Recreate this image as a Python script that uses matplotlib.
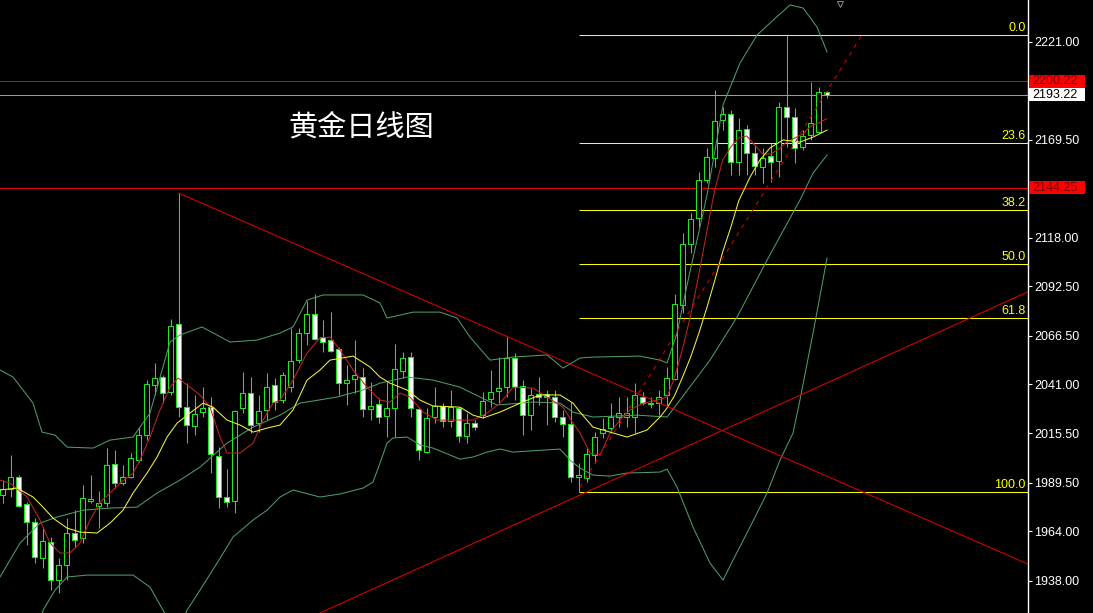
import matplotlib
matplotlib.use('Agg')
import matplotlib.pyplot as plt
import matplotlib.transforms as mtransforms
from matplotlib.patches import Rectangle
import numpy as np

# ---------------- data ----------------
opens = [1982.9, 1986.1, 1992.4, 1978.2, 1968.8, 1949.8, 1958.2, 1938.3, 1946.2, 1963.0,
         1960.3, 1979.8, 1977.2, 1978.7, 1999.2, 1989.2, 1992.4, 2001.3, 2014.4, 2040.7,
         2044.9, 2037.0, 2072.7, 2029.1, 2019.2, 2026.5, 2029.1, 2003.4, 1981.9, 1979.8,
         2028.6, 2036.5, 2020.7, 2027.6, 2040.7, 2032.8, 2039.6, 2053.8, 2068.0, 2078.0,
         2065.9, 2064.3, 2059.6, 2041.7, 2043.9, 2044.9, 2028.1, 2030.7, 2024.4, 2028.6,
         2048.1, 2055.4, 2028.1, 2005.5, 2023.9, 2029.7, 2021.8, 2028.6, 2013.9, 2020.7,
         2024.9, 2033.4, 2037.6, 2039.6, 2054.9, 2040.2, 2024.9, 2036.0, 2036.0, 2034.4,
         2023.9, 2020.2, 1992.4, 1991.9, 2003.9, 2015.5, 2018.1, 2023.9, 2023.9, 2023.9,
         2034.4, 2030.7, 2031.2, 2035.5, 2043.9, 2082.7, 2114.8, 2128.4, 2148.4, 2159.9,
         2179.9, 2183.0, 2157.8, 2175.1, 2162.5, 2155.2, 2161.0, 2158.3, 2186.7, 2181.5,
         2165.7, 2172.0, 2173.6, 2194.6]
highs = [1990.8, 2003.9, 1993.4, 1979.3, 1970.9, 1966.1, 1960.9, 1949.8, 1970.9, 1975.1,
         1988.2, 1993.4, 1985.0, 2007.6, 2006.6, 1998.7, 2005.0, 2018.6, 2043.3, 2052.3,
         2046.0, 2075.4, 2141.5, 2041.7, 2035.5, 2039.6, 2034.4, 2008.1, 1996.6, 2027.6,
         2047.5, 2044.9, 2035.5, 2047.0, 2044.4, 2047.5, 2070.6, 2070.6, 2084.8, 2088.5,
         2074.8, 2079.0, 2060.7, 2051.2, 2064.3, 2049.6, 2042.3, 2033.9, 2042.3, 2062.2,
         2058.0, 2058.0, 2029.1, 2028.6, 2039.6, 2031.2, 2038.1, 2029.1, 2026.0, 2022.3,
         2037.0, 2048.6, 2055.4, 2065.9, 2057.5, 2043.3, 2039.1, 2044.9, 2038.1, 2038.1,
         2027.6, 2031.8, 1999.7, 2008.1, 2016.0, 2023.4, 2031.2, 2034.4, 2034.4, 2041.7,
         2037.0, 2034.4, 2038.1, 2050.2, 2088.5, 2120.5, 2131.0, 2152.6, 2165.2, 2195.6,
         2186.7, 2185.1, 2180.9, 2177.2, 2166.7, 2165.2, 2167.8, 2189.3, 2224.5, 2186.2,
         2174.6, 2199.8, 2197.2, 2195.1]
lows = [1978.7, 1981.9, 1976.6, 1956.7, 1947.2, 1944.6, 1933.0, 1931.5, 1938.3, 1955.6,
        1957.7, 1978.7, 1965.6, 1976.6, 1986.6, 1988.2, 1991.9, 2000.3, 2011.8, 2035.5,
        2031.2, 2035.5, 2023.9, 2010.2, 2014.4, 2023.9, 1994.5, 1976.1, 1976.6, 1973.5,
        2026.0, 2015.5, 2016.0, 2022.3, 2027.6, 2031.2, 2037.0, 2052.3, 2061.7, 2064.3,
        2058.0, 2058.0, 2035.5, 2030.2, 2036.5, 2023.9, 2022.3, 2020.7, 2013.4, 2013.4,
        2044.4, 2023.9, 2001.3, 2005.0, 2020.7, 2018.6, 2018.6, 2010.8, 2010.2, 2017.1,
        2023.4, 2029.1, 2031.2, 2034.4, 2032.8, 2014.4, 2017.1, 2030.2, 2019.7, 2021.3,
        2013.4, 1989.8, 1984.3, 1989.8, 1999.7, 2012.9, 2015.5, 2018.6, 2018.6, 2015.5,
        2030.2, 2028.6, 2024.9, 2029.1, 2043.3, 2078.5, 2110.0, 2123.7, 2146.8, 2155.2,
        2174.6, 2151.0, 2151.0, 2151.0, 2151.0, 2146.8, 2147.3, 2149.9, 2165.7, 2157.3,
        2164.1, 2169.4, 2173.1, 2191.4]
closes = [1986.1, 1992.4, 1977.2, 1968.8, 1950.4, 1958.8, 1938.3, 1946.2, 1963.0, 1959.3,
          1981.4, 1980.8, 1978.7, 1998.7, 1989.2, 1992.4, 2002.4, 2014.4, 2041.2, 2044.4,
          2036.5, 2071.7, 2029.1, 2019.7, 2025.5, 2028.6, 2004.5, 1981.9, 1979.3, 2027.0,
          2036.5, 2019.7, 2027.0, 2039.6, 2031.8, 2046.0, 2053.3, 2068.0, 2078.0, 2064.9,
          2063.3, 2058.6, 2041.7, 2043.3, 2046.0, 2028.1, 2029.7, 2023.9, 2028.6, 2049.1,
          2054.9, 2028.6, 2006.6, 2023.4, 2029.7, 2021.8, 2029.1, 2013.9, 2020.7, 2018.6,
          2032.3, 2037.0, 2039.1, 2054.9, 2039.6, 2024.9, 2035.5, 2034.4, 2034.4, 2023.9,
          2020.2, 1992.4, 1993.4, 2004.5, 2013.4, 2017.6, 2023.9, 2026.0, 2026.0, 2035.5,
          2031.2, 2031.2, 2034.4, 2044.4, 2083.2, 2114.8, 2127.9, 2148.4, 2160.4, 2179.4,
          2183.0, 2157.8, 2174.6, 2162.5, 2155.7, 2159.9, 2157.8, 2186.7, 2181.5, 2165.2,
          2171.5, 2178.3, 2194.6, 2193.22]

# Bollinger bands (upper / middle / lower), read as (bar index, price)
bb_up_x = [-0.34, 1.29, 3.79, 4.91, 6.54, 8.04, 11.29, 13.41, 16.29, 18.41, 20.91, 22.16,
           24.91, 28.41, 31.79, 34.66, 36.29, 38.04, 40.04, 45.04, 47.16, 48.04, 51.29, 54.66,
           56.79, 58.41, 60.91, 63.79, 68.04, 70.04, 72.16, 73.79, 79.66, 82.16, 83.04, 84.29,
           85.54, 86.79, 88.04, 89.04, 90.04, 92.16, 94.29, 95.91, 98.41, 100.04, 101.79, 103.04]
bb_up_y = [2048.6, 2044.9, 2031.2, 2016.0, 2014.4, 2008.1, 2007.6, 2011.8, 2013.4, 2026.0, 2063.3, 2067.0,
           2071.2, 2063.3, 2064.3, 2068.0, 2071.2, 2085.3, 2088.0, 2088.0, 2083.8, 2075.9, 2079.0, 2079.0,
           2075.9, 2065.9, 2053.8, 2055.4, 2056.5, 2049.6, 2054.9, 2055.4, 2055.9, 2053.8, 2052.3, 2068.0,
           2093.2, 2116.9, 2140.5, 2164.1, 2187.8, 2209.8, 2224.5, 2230.8, 2240.3, 2238.7, 2228.7, 2215.6]
bb_mid_x = [-0.34, 2.16, 4.66, 6.79, 10.04, 13.41, 16.79, 19.29, 22.16, 24.66, 28.04, 31.29,
            34.66, 37.16, 41.79, 45.04, 47.16, 50.54, 53.79, 57.16, 59.66, 61.79, 66.29, 69.66,
            71.29, 73.79, 79.29, 83.04, 84.66, 88.41, 91.79, 95.54, 99.66, 101.29, 103.04]
bb_mid_y = [1939.9, 1957.7, 1968.2, 1971.4, 1975.0, 1976.1, 1976.6, 1984.0, 1990.8, 1997.6, 2010.2, 2018.6,
            2024.9, 2031.2, 2034.4, 2038.1, 2041.7, 2044.9, 2043.3, 2039.6, 2034.4, 2030.2, 2031.8, 2031.2,
            2026.5, 2023.9, 2024.9, 2023.9, 2032.8, 2053.8, 2076.4, 2106.3, 2137.9, 2152.0, 2161.5]
bb_lo_x = [4.66, 5.04, 6.54, 8.04, 10.54, 16.29, 18.41, 20.04, 20.91, 22.41, 23.04, 24.66,
           26.79, 28.79, 31.29, 33.04, 34.66, 36.29, 39.66, 42.16, 45.04, 46.29, 47.16, 48.04,
           48.79, 50.54, 52.16, 53.79, 57.16, 58.79, 60.54, 62.16, 63.79, 69.66, 70.91, 72.16,
           73.79, 75.91, 78.04, 82.16, 83.04, 84.29, 86.29, 88.41, 90.04, 91.29, 93.41, 95.54,
           97.16, 98.79, 99.66, 101.29, 103.04]
bb_lo_y = [1914.6, 1922.5, 1933.0, 1939.9, 1940.9, 1940.9, 1934.6, 1922.5, 1916.2, 1916.2, 1922.5, 1933.0,
           1947.2, 1960.9, 1969.8, 1975.0, 1981.9, 1985.6, 1981.9, 1983.5, 1986.6, 1989.8, 1999.7, 2010.2,
           2012.9, 2013.4, 2009.2, 2007.6, 2001.8, 2002.9, 2005.5, 2007.1, 2005.5, 2007.1, 2001.3, 1997.1,
           1993.4, 1992.9, 1994.5, 1995.0, 1996.6, 1987.1, 1966.1, 1947.2, 1938.3, 1948.8, 1966.1, 1984.0,
           2001.3, 2015.5, 2033.0, 2068.0, 2107.4]

# fast (red) and slow (yellow) moving averages
ma_fast_x = [-0.34, 0.91, 3.04, 4.66, 5.91, 7.16, 8.41, 9.66, 10.91, 12.16, 13.41, 14.66, 16.29, 17.16,
             18.41, 19.66, 20.91, 21.91, 23.41, 24.66, 25.91, 27.16, 28.04, 29.66, 31.29, 32.54, 33.79,
             34.66, 36.29, 38.04, 39.66, 40.91, 42.16, 43.79, 45.54, 47.16, 48.41, 49.66, 50.91, 52.54,
             54.29, 56.79, 58.79, 60.54, 62.16, 63.79, 66.29, 68.04, 70.04, 71.29, 72.16, 73.41, 74.66,
             75.91, 77.16, 78.41, 80.04, 81.79, 83.04, 84, 85, 86, 87, 88, 89, 90, 91, 92, 93, 94, 95,
             96, 97, 98, 99, 100, 101, 102, 103]
ma_fast_y = [1990.8, 1989.2, 1981.9, 1969.8, 1957.7, 1952.5, 1952.5, 1957.7, 1969.8, 1979.2, 1984.0, 1989.2,
             1994.5, 2001.3, 2013.4, 2027.6, 2039.6, 2044.4, 2039.6, 2035.5, 2029.1, 2013.4, 2005.0, 2005.0,
             2010.2, 2022.3, 2031.2, 2032.8, 2043.3, 2057.5, 2065.4, 2065.9, 2059.1, 2048.6, 2039.6, 2032.8,
             2031.8, 2036.5, 2034.4, 2026.5, 2022.3, 2022.3, 2022.3, 2026.0, 2031.2, 2039.6, 2039.1, 2034.4,
             2029.1, 2020.7, 2015.5, 2005.0, 2003.9, 2015.5, 2022.3, 2027.6, 2031.2, 2032.8, 2034.4, 2044.9,
             2060.1, 2077.5, 2098.5, 2121.1, 2143.1, 2158.9, 2165.7, 2170.4, 2171.5, 2166.7, 2162.0, 2162.0,
             2164.6, 2168.3, 2170.4, 2172.5, 2176.7, 2178.3, 2180.6]
ma_slow_x = [-0.34, 1.79, 3.79, 5.04, 6.29, 8.04, 9.66, 11.79, 13.41, 15.04, 16.29, 18.04, 19.29, 20.54,
             21.79, 23.41, 25.04, 26.29, 28.04, 29.66, 31.29, 33.04, 34.66, 36.29, 38.04, 39.66, 40.91,
             43.79, 45.91, 47.16, 48.41, 50.54, 52.16, 53.79, 57.16, 58.79, 60.04, 62.16, 64.66, 67.16,
             69.66, 71.29, 72.16, 73.79, 78.04, 80.54, 82.16, 83, 84, 85, 86, 87, 88, 89, 90, 91, 92,
             93.41, 94.66, 95.91, 97.54, 99.66, 101.29, 103.04]
ma_slow_y = [1985.6, 1986.6, 1981.9, 1976.6, 1970.8, 1965.6, 1963.5, 1963.0, 1968.2, 1975.0, 1984.0, 1994.5,
             2002.9, 2013.4, 2020.7, 2026.0, 2031.2, 2029.1, 2022.3, 2019.7, 2016.0, 2018.1, 2019.7, 2027.6,
             2043.3, 2048.6, 2053.8, 2055.9, 2050.2, 2044.9, 2041.7, 2038.1, 2032.8, 2029.7, 2029.1, 2024.9,
             2023.4, 2026.5, 2031.2, 2035.5, 2035.5, 2031.2, 2026.5, 2018.6, 2013.4, 2017.1, 2023.9, 2028.4,
             2035.3, 2045.1, 2055.5, 2067.7, 2081.1, 2095.5, 2110.7, 2123.4, 2137.4, 2149.9, 2158.9, 2165.2,
             2169.4, 2168.3, 2170.9, 2174.6]

# trend lines: (bar index, price) anchors
down_line_x = [22.0, 128.16]
down_line_y = [2141.5, 1946.7]
up_line_x = [39.66, 128.16]
up_line_y = [1921.0, 2089.7]
dash_line_x = [72.16, 107.4]
dash_line_y = [1987.1, 2224.5]

# Fibonacci retracement
fib_start = 72
fib_high = 2224.6
fib_low = 1984.3
fib_ratios = [0.0, 0.236, 0.382, 0.5, 0.618, 1.0]
fib_labels = ['0.0', '23.6', '38.2', '50.0', '61.8', '100.0']

# horizontal levels
red_levels = [2200.22, 2144.25]
red_level_labels = ['2200.22', '2144.25']
last_price = 2193.22
last_price_label = '2193.22'

tick_vals = [2221.00, 2169.50, 2118.00, 2092.50, 2066.50, 2041.00, 2015.50, 1989.50, 1964.00, 1938.00]
tick_labels = ['2221.00', '2169.50', '2118.00', '2092.50', '2066.50', '2041.00', '2015.50',
               '1989.50', '1964.00', '1938.00']

title_text = '黄金日线图'

# ---------------- drawing ----------------
W, H, DPI = 1093, 613, 100
fig = plt.figure(figsize=(W / DPI, H / DPI), dpi=DPI, facecolor='black')
AX_W = 1028
ax = fig.add_axes([0, 0, AX_W / W, 1])
ax.set_facecolor('black')
XMIN, XMAX = -0.34, 128.16
YMIN, YMAX = 1921.0, 2242.9
ax.set_xlim(XMIN, XMAX)
ax.set_ylim(YMIN, YMAX)

GREEN = '#22E622'
BB_COL = '#4F9D69'
RED_MA = '#C02424'
RED_LINE = '#E00000'
YEL = '#FFFF00'
LW = 0.74   # just over one pixel at 100 dpi, so snapping lands on pixel centres

o = np.array(opens); h = np.array(highs); l = np.array(lows); c = np.array(closes)
x = np.arange(len(o))
bull = c >= o
ax.vlines(x, l, h, color=GREEN, lw=LW, zorder=2, snap=True)
bottoms = np.minimum(o, c)
heights = np.maximum(np.abs(c - o), 0.5)
ax.bar(x, heights, bottom=bottoms, width=0.6,
       color=np.where(bull, 'black', 'white'), edgecolor=GREEN, linewidth=LW, zorder=3)

# horizontal lines
for lv in red_levels:
    ax.axhline(lv, color=RED_LINE, lw=LW, zorder=1, snap=True)
ax.axhline(last_price, color='#9A9A9A', lw=LW, zorder=1, snap=True)

# fib
trans = mtransforms.blended_transform_factory(ax.transAxes, ax.transData)
for r, lab in zip(fib_ratios, fib_labels):
    lv = fib_high - r * (fib_high - fib_low)
    ax.hlines(lv, fib_start, XMAX, color=YEL, lw=LW, zorder=1, snap=True)
    ax.text(1025.5 / AX_W, lv + 0.6, lab, transform=trans, ha='right', va='bottom',
            color=YEL, fontsize=9, family='Liberation Sans', zorder=6)

# indicators
ax.plot(bb_up_x, bb_up_y, color=BB_COL, lw=LW, zorder=4)
ax.plot(bb_mid_x, bb_mid_y, color=BB_COL, lw=LW, zorder=4)
ax.plot(bb_lo_x, bb_lo_y, color=BB_COL, lw=LW, zorder=4)
ax.plot(ma_fast_x, ma_fast_y, color=RED_MA, lw=LW, zorder=4)
ax.plot(ma_slow_x, ma_slow_y, color='#F5F53C', lw=LW, zorder=4)

# trend lines
ax.plot(down_line_x, down_line_y, color=RED_LINE, lw=LW, zorder=4)
ax.plot(up_line_x, up_line_y, color=RED_LINE, lw=LW, zorder=4)
ax.plot(dash_line_x, dash_line_y, color=RED_LINE, lw=LW, ls=(0, (4, 5)), zorder=4)

# chart-shift marker at the top
ax.plot([104.66], [2241.0], marker='v', ms=4, color='#8A8A8A', mfc='none', mew=0.7,
        clip_on=False, zorder=5)

# axis styling
ax.yaxis.tick_right()
ax.set_yticks(tick_vals)
ax.set_yticklabels(tick_labels, family='Liberation Sans')
ax.tick_params(axis='y', colors='white', length=3, width=0.8, pad=1.5, labelsize=9)
ax.tick_params(axis='x', bottom=False, labelbottom=False)
for s in ['top', 'left', 'bottom']:
    ax.spines[s].set_visible(False)
ax.spines['right'].set_color('white')
ax.spines['right'].set_linewidth(1.0)

# price label boxes
px = (YMAX - YMIN) / H  # price per pixel
def price_box(val, label, fc, tc):
    bh = 13 * px
    rect = Rectangle((1029 / AX_W, val - bh / 2), 56 / AX_W, bh, transform=trans,
                     facecolor=fc, edgecolor='none', clip_on=False, zorder=7)
    ax.add_patch(rect)
    ax.text(1032.5 / AX_W, val, label, transform=trans, ha='left', va='center',
            color=tc, fontsize=9, family='Liberation Sans', clip_on=False, zorder=8)

for lv, lab in zip(red_levels, red_level_labels):
    price_box(lv, lab, '#FF0000', '#7A0000')
price_box(last_price, last_price_label, 'white', 'black')

# title
fig.text(288 / W, 1 - 128 / H, title_text, color='white', fontsize=21,
         family=['Noto Sans CJK SC', 'DejaVu Sans'], fontweight='light', ha='left', va='center')

fig.savefig('out.png', dpi=DPI, facecolor='black')
